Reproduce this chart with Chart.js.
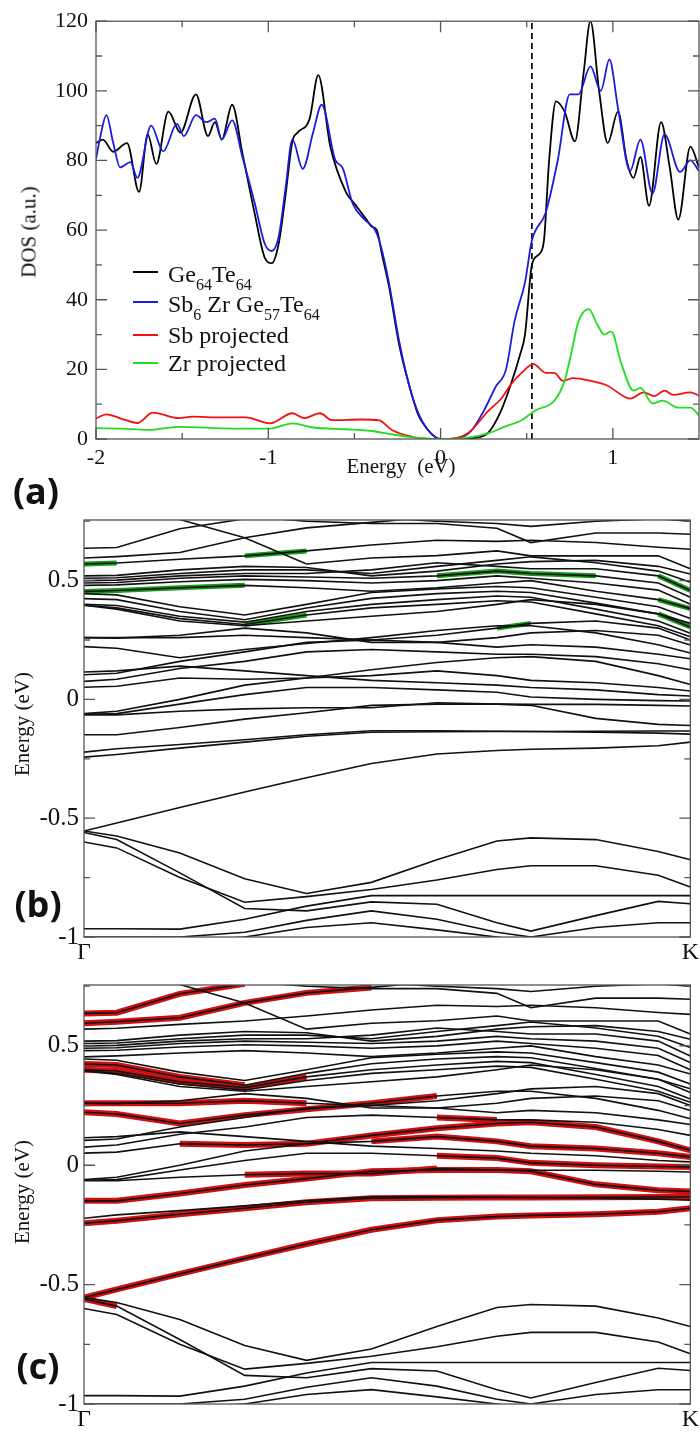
<!DOCTYPE html>
<html>
<head>
<meta charset="utf-8">
<script src="https://cdn.jsdelivr.net/npm/chart.js@4.4.0/dist/chart.umd.min.js"></script>
<style>
  body { margin: 0; background: #fff; width: 700px; height: 1432px; position: relative; overflow: hidden;
         font-family: "Liberation Serif", "DejaVu Serif", serif; color: #111; }
  canvas { position: absolute; left: 0; }
  .t { position: absolute; white-space: nowrap; font-size: 21px; }
  .rot { transform: translate(-50%, -50%) rotate(-90deg); }
  .tag { position: absolute; font-family: "Open Sans", "Liberation Sans", sans-serif; font-weight: 700; font-size: 36px;
         transform: translate(-50%, -50%); }
  .key { position: absolute; left: 133px; width: 25px; height: 0; border-top: 2px solid; }
  .lt { position: absolute; left: 168px; font-size: 24px; transform: translateY(-50%); white-space: nowrap; }
  sub { font-size: 16px; vertical-align: -8px; line-height: 0; }
</style>
</head>
<body>
<canvas id="dos" width="700" height="490" style="top:0"></canvas>
<canvas id="bandZr" width="700" height="465" style="top:500px"></canvas>
<canvas id="bandSb" width="700" height="467" style="top:965px"></canvas>

<div class="t rot" style="left:29px;top:232px">DOS (a.u.)</div>
<div class="t" style="left:401px;top:466px;transform:translate(-50%,-50%)">Energy&nbsp; (eV)</div>
<div class="tag" style="left:36px;top:490px">(a)</div>

<div class="key" style="top:271px;border-color:#000"></div>
<div class="lt" style="top:274px">Ge<sub>64</sub>Te<sub>64</sub></div>
<div class="key" style="top:301px;border-color:#1c1ce0"></div>
<div class="lt" style="top:304px">Sb<sub>6</sub> Zr Ge<sub>57</sub>Te<sub>64</sub></div>
<div class="key" style="top:334px;border-color:#f01010"></div>
<div class="lt" style="top:335px">Sb projected</div>
<div class="key" style="top:362px;border-color:#20dd20"></div>
<div class="lt" style="top:363px">Zr projected</div>

<div class="t rot" style="left:22px;top:724px">Energy (eV)</div>
<div class="tag" style="left:38px;top:903px">(b)</div>
<div class="t rot" style="left:22px;top:1192px">Energy (eV)</div>
<div class="tag" style="left:38px;top:1365px">(c)</div>

<script>
'use strict';

// ── DOS panel (a) ───────────────────────────────────────────────────────────

const GETE_E = [-2, -1.96, -1.90, -1.82, -1.75, -1.70, -1.65, -1.58, -1.51, -1.42, -1.35, -1.31, -1.27, -1.21,
  -1.15, -1.08, -1.02, -0.98, -0.94, -0.90, -0.86, -0.83, -0.76, -0.71, -0.64, -0.55, -0.49, -0.43, -0.40,
  -0.37, -0.34, -0.30, -0.24, -0.18, -0.13, -0.08, -0.03, 0.0, 0.1, 0.2, 0.28, 0.35, 0.41, 0.46, 0.49, 0.53,
  0.57, 0.60, 0.63, 0.67, 0.72, 0.78, 0.83, 0.87, 0.92, 0.97, 1.03, 1.08, 1.12, 1.16, 1.21, 1.28, 1.33, 1.38,
  1.45, 1.5];
const GETE_DOS = [85, 86, 82.5, 85, 71, 87.5, 79, 94, 88, 99, 87, 91, 86, 96,
  82, 65, 52, 50.5, 56, 70, 85.5, 88, 92, 104.5, 84, 71, 67, 63, 61,
  60, 53, 44, 27, 15, 7, 3, 0.5, 0, 0, 0.3, 2, 8, 16, 24, 30, 50,
  53, 57, 80, 97, 94, 85.5, 105, 120, 100, 85, 94, 80, 75, 81, 67, 91, 78, 63,
  84, 78];

const SBZR_E = [-2, -1.97, -1.94, -1.90, -1.86, -1.80, -1.76, -1.68, -1.61, -1.53, -1.49, -1.42, -1.36, -1.31,
  -1.27, -1.21, -1.15, -1.08, -1.02, -0.98, -0.94, -0.90, -0.86, -0.80, -0.74, -0.69, -0.61, -0.57, -0.51,
  -0.44, -0.38, -0.35, -0.30, -0.24, -0.18, -0.13, -0.08, -0.03, 0, 0.1, 0.18, 0.25, 0.32, 0.38, 0.43, 0.49,
  0.53, 0.61, 0.68, 0.75, 0.80, 0.87, 0.93, 0.98, 1.03, 1.10, 1.16, 1.23, 1.30, 1.39, 1.45, 1.5];
const SBZR_DOS = [80.4, 88, 93, 85, 78, 79.5, 75, 90, 82.6, 90.5, 87, 93, 91, 92,
  86, 91.5, 81, 68, 56, 54, 58, 72, 86, 77.6, 88, 96, 80, 78, 67.6,
  63, 60, 56, 45, 28, 15, 7.5, 3, 0.5, 0, 0.2, 2.5, 8, 15, 20, 34, 45,
  57, 65, 80, 99, 99, 107, 100, 109, 95, 77, 86, 70.5, 87.5, 76.7, 80, 77];

const SB_E = [-2, -1.94, -1.85, -1.76, -1.67, -1.52, -1.44, -1.28, -1.13, -0.99, -0.86, -0.79, -0.70, -0.63,
  -0.46, -0.36, -0.28, -0.17, -0.08, 0, 0.08, 0.16, 0.28, 0.35, 0.41, 0.47, 0.54, 0.61, 0.66, 0.71, 0.77,
  0.87, 0.97, 1.10, 1.18, 1.24, 1.30, 1.35, 1.45, 1.5];
const SB_DOS = [5.9, 7.1, 5.8, 4.6, 7.6, 6, 6.4, 6.2, 6.2, 4.5, 7.4, 6, 7.4, 5.4,
  5.6, 5.4, 2.5, 0.7, 0.1, 0, 0.2, 1.7, 8.2, 11.5, 15.8, 19, 21.5, 19, 19, 16.7, 17.5,
  16.7, 15.3, 11.6, 13.4, 12.3, 13.9, 12.7, 13.4, 12.5];

const ZR_E = [-2, -1.85, -1.7, -1.52, -1.2, -0.99, -0.86, -0.74, -0.55, -0.4, -0.3, -0.2, -0.1, 0, 0.15,
  0.28, 0.37, 0.47, 0.55, 0.66, 0.72, 0.76, 0.80, 0.86, 0.91, 0.95, 0.99, 1.05, 1.12, 1.16, 1.23, 1.29,
  1.38, 1.45, 1.5];
const ZR_DOS = [3.1, 3, 2.6, 3.5, 3, 3, 4.5, 3.3, 2.8, 2.3, 1.5, 0.7, 0.2, 0, 0.3,
  1.7, 3.5, 5.4, 8.2, 11, 16.7, 25, 33.7, 37.3, 32.8, 30, 30.9, 21.5, 13.9, 14.7, 10.2, 11,
  9, 9, 6.8];

const FERMI_MARK = 0.53;
const DOS_X_MAJOR = [-2, -1, 0, 1];
const DOS_X_MINOR = [-1.5, -0.5, 0.5];
const DOS_Y_MAJOR = [0, 20, 40, 60, 80, 100, 120];
const DOS_Y_MINOR = [10, 30, 50, 70, 90, 110];

// ── band structure panels (b) and (c) ───────────────────────────────────────

const K_PTS = [0, 0.054, 0.158, 0.265, 0.367, 0.474, 0.582, 0.681, 0.737, 0.844, 0.947, 1.0];
const BANDS = [
  [0.636, 0.639, 0.718, 0.76, 0.80, 0.82, 0.82, 0.80, 0.79, 0.78, 0.78, 0.78],              // 0
  [0.595, 0.601, 0.618, 0.68, 0.722, 0.745, 0.77, 0.79, 0.80, 0.78, 0.77, 0.765],           // 1
  [0.86, 0.85, 0.83, 0.80, 0.78, 0.765, 0.75, 0.74, 0.728, 0.75, 0.76, 0.75],               // 2
  [0.83, 0.82, 0.80, 0.77, 0.75, 0.74, 0.74, 0.72, 0.66, 0.70, 0.70, 0.695],                // 3
  [0.80, 0.79, 0.757, 0.68, 0.57, 0.595, 0.605, 0.625, 0.604, 0.604, 0.604, 0.55],          // 4
  [0.57, 0.574, 0.59, 0.604, 0.625, 0.65, 0.67, 0.665, 0.67, 0.66, 0.64, 0.632],            // 5
  [0.52, 0.522, 0.545, 0.56, 0.555, 0.52, 0.54, 0.57, 0.58, 0.585, 0.56, 0.528],            // 6
  [0.51, 0.512, 0.53, 0.545, 0.545, 0.53, 0.56, 0.585, 0.60, 0.575, 0.54, 0.493],           // 7
  [0.50, 0.502, 0.52, 0.53, 0.53, 0.545, 0.575, 0.56, 0.55, 0.55, 0.52, 0.458],             // 8
  [0.49, 0.492, 0.51, 0.52, 0.515, 0.51, 0.52, 0.54, 0.53, 0.52, 0.49, 0.43],               // 9
  [0.48, 0.482, 0.495, 0.505, 0.50, 0.49, 0.50, 0.52, 0.51, 0.49, 0.46, 0.40],              // 10
  [0.454, 0.458, 0.47, 0.48, 0.47, 0.455, 0.47, 0.49, 0.50, 0.455, 0.42, 0.382],            // 11
  [0.445, 0.44, 0.39, 0.355, 0.40, 0.45, 0.465, 0.475, 0.47, 0.43, 0.39, 0.34],             // 12
  [0.424, 0.42, 0.37, 0.335, 0.385, 0.425, 0.445, 0.455, 0.45, 0.405, 0.36, 0.305],         // 13
  [0.40, 0.395, 0.35, 0.325, 0.37, 0.40, 0.42, 0.435, 0.43, 0.38, 0.33, 0.278],             // 14
  [0.396, 0.385, 0.34, 0.315, 0.355, 0.385, 0.40, 0.415, 0.41, 0.36, 0.31, 0.264],          // 15
  [0.396, 0.38, 0.33, 0.31, 0.33, 0.35, 0.37, 0.40, 0.42, 0.40, 0.36, 0.32],                // 16
  [0.26, 0.26, 0.26, 0.27, 0.26, 0.25, 0.27, 0.30, 0.32, 0.33, 0.30, 0.25],                 // 17
  [0.26, 0.258, 0.27, 0.30, 0.28, 0.24, 0.24, 0.26, 0.28, 0.29, 0.27, 0.229],               // 18
  [0.222, 0.215, 0.175, 0.21, 0.235, 0.26, 0.29, 0.31, 0.31, 0.28, 0.23, 0.195],            // 19
  [0.104, 0.11, 0.16, 0.20, 0.24, 0.25, 0.24, 0.22, 0.23, 0.22, 0.19, 0.171],               // 20
  [0.076, 0.085, 0.13, 0.16, 0.20, 0.21, 0.20, 0.19, 0.19, 0.18, 0.15, 0.125],              // 21
  [0.051, 0.055, 0.09, 0.085, 0.09, 0.125, 0.155, 0.175, 0.18, 0.16, 0.10, 0.0625],         // 22
  [0.115, 0.12, 0.14, 0.12, 0.10, 0.08, 0.07, 0.06, 0.05, 0.04, 0.02, 0.014],               // 23
  [-0.06, -0.05, 0.00, 0.06, 0.09, 0.10, 0.12, 0.10, 0.08, 0.07, 0.05, 0.035],              // 24
  [-0.0625, -0.06, -0.02, 0.02, 0.05, 0.05, 0.04, 0.03, 0.01, 0.0, -0.005, -0.007],         // 25
  [-0.065, -0.065, -0.05, -0.04, -0.035, -0.035, -0.014, -0.02, -0.021, -0.021, -0.025, -0.028], // 26
  [-0.149, -0.149, -0.118, -0.083, -0.056, -0.025, -0.02, -0.02, -0.025, -0.08, -0.105, -0.11],  // 27
  [-0.222, -0.208, -0.19, -0.17, -0.149, -0.132, -0.132, -0.134, -0.135, -0.138, -0.142, -0.146], // 28
  [-0.243, -0.232, -0.205, -0.18, -0.155, -0.138, -0.136, -0.135, -0.135, -0.134, -0.133, -0.133], // 29
  [-0.554, -0.52, -0.455, -0.39, -0.33, -0.27, -0.23, -0.215, -0.21, -0.205, -0.195, -0.18],      // 30
  [-0.554, -0.575, -0.646, -0.755, -0.817, -0.77, -0.675, -0.596, -0.583, -0.59, -0.64, -0.675],  // 31
  [-0.56, -0.59, -0.73, -0.88, -0.89, -0.852, -0.862, -0.94, -0.975, -0.91, -0.85, -0.86],        // 32
  [-0.60, -0.625, -0.75, -0.854, -0.83, -0.80, -0.76, -0.716, -0.70, -0.70, -0.74, -0.79],        // 33
  [-0.965, -0.965, -0.967, -0.925, -0.87, -0.826, -0.826, -0.826, -0.826, -0.826, -0.826, -0.826], // 34
  [-1.0, -1.0, -1.0, -0.98, -0.93, -0.89, -0.925, -0.98, -1.0, -0.96, -0.94, -0.94],              // 35
  [-1.02, -1.02, -1.02, -1.0, -0.96, -0.94, -0.97, -1.0, -1.02, -1.02, -1.02, -1.02],             // 36
];

// [band index, first k index, last k index]
const ZR_WEIGHT = [[5, 0, 1], [11, 0, 3], [15, 3, 4], [5, 3, 4], [9, 6, 9], [8, 10, 11],
  [11, 10, 11], [17, 7, 8], [13, 10, 11]];
const SB_WEIGHT = [[0, 0, 3], [1, 0, 5], [13, 0, 3], [14, 0, 4], [17, 0, 4], [19, 0, 6], [22, 2, 11],
  [24, 5, 11], [25, 6, 11], [26, 3, 6], [21, 6, 7], [27, 0, 11], [29, 0, 11], [30, 0, 11], [32, 0, 1]];

const BAND_Y_MAJOR = [-1, -0.5, 0, 0.5];
const BAND_Y_MINOR = [-0.75, -0.25, 0.25, 0.75];

// ── frame with inward ticks on all four sides ──────────────────────────────

const framePlugin = {
  id: 'frame',
  afterDraw(chart, args, o) {
    const { ctx, chartArea: a, scales: { x, y } } = chart;
    ctx.save();
    ctx.strokeStyle = '#555';
    ctx.lineWidth = 1.3;
    ctx.strokeRect(a.left, a.top, a.right - a.left, a.bottom - a.top);
    ctx.beginPath();
    const xt = (vals, len) => vals.forEach(v => {
      const px = x.getPixelForValue(v);
      ctx.moveTo(px, a.bottom); ctx.lineTo(px, a.bottom - len);
      ctx.moveTo(px, a.top); ctx.lineTo(px, a.top + len);
    });
    const yt = (vals, len) => vals.forEach(v => {
      const py = y.getPixelForValue(v);
      ctx.moveTo(a.left, py); ctx.lineTo(a.left + len, py);
      ctx.moveTo(a.right, py); ctx.lineTo(a.right - len, py);
    });
    xt(o.xMajor || [], 11); xt(o.xMinor || [], 6);
    yt(o.yMajor || [], 11); yt(o.yMinor || [], 6);
    ctx.stroke();
    ctx.restore();
  }
};

const pairs = (xs, ys) => xs.map((v, i) => ({ x: v, y: ys[i] }));
const tickFont = size => ({ family: '"Liberation Serif", serif', size });

// ── render ───────────────────────────────────────────────────────────────────

function renderDOS() {
  const line = (label, xs, ys, color, w) => ({
    label, data: pairs(xs, ys), borderColor: color, borderWidth: w,
    pointRadius: 0, cubicInterpolationMode: 'monotone', fill: false,
  });
  new Chart(document.getElementById('dos'), {
    type: 'line',
    data: {
      datasets: [
        line('Zr projected', ZR_E, ZR_DOS, '#20dd20', 1.8),
        line('Sb projected', SB_E, SB_DOS, '#f01010', 1.8),
        line('Sb6 Zr Ge57Te64', SBZR_E, SBZR_DOS, '#1c1ce0', 1.8),
        line('Ge64Te64', GETE_E, GETE_DOS, '#000', 1.8),
        { label: 'mark', data: [{ x: FERMI_MARK, y: 0 }, { x: FERMI_MARK, y: 120 }],
          borderColor: '#000', borderWidth: 1.7, borderDash: [6, 4], pointRadius: 0 },
      ],
    },
    options: {
      responsive: false, animation: false, events: [],
      layout: { padding: { top: 15, right: 1 } },
      plugins: { legend: { display: false }, tooltip: { enabled: false },
        frame: { xMajor: DOS_X_MAJOR, xMinor: DOS_X_MINOR, yMajor: DOS_Y_MAJOR, yMinor: DOS_Y_MINOR } },
      scales: {
        x: { type: 'linear', min: -2, max: 1.5,
          grid: { display: false, drawTicks: false }, border: { display: false },
          afterBuildTicks: s => { s.ticks = DOS_X_MAJOR.map(v => ({ value: v })); },
          afterFit: s => { s.height = 51; },
          ticks: { color: '#111', font: tickFont(22), padding: 6, callback: v => String(v) } },
        y: { type: 'linear', min: 0, max: 120,
          grid: { display: false, drawTicks: false }, border: { display: false },
          afterBuildTicks: s => { s.ticks = DOS_Y_MAJOR.map(v => ({ value: v })); },
          afterFit: s => { s.width = 96; },
          ticks: { color: '#111', font: tickFont(22), padding: 8, callback: v => String(v) } },
      },
    },
    plugins: [framePlugin],
  });
}

function renderBands(id, weights, color, wWidth, top, xH) {
  const black = BANDS.map(b => ({
    data: pairs(K_PTS, b), borderColor: '#111', borderWidth: 1.6, pointRadius: 0, tension: 0,
  }));
  const marked = weights.map(([bi, from, to]) => ({
    data: pairs(K_PTS, BANDS[bi].map((v, i) => (i >= from && i <= to ? v : null))),
    borderColor: color, borderWidth: wWidth, pointRadius: 0, tension: 0, spanGaps: false,
  }));
  new Chart(document.getElementById(id), {
    type: 'line',
    data: { datasets: black.concat(marked) },
    options: {
      responsive: false, animation: false, events: [],
      layout: { padding: { top, right: 8 } },
      plugins: { legend: { display: false }, tooltip: { enabled: false },
        frame: { yMajor: BAND_Y_MAJOR, yMinor: BAND_Y_MINOR } },
      scales: {
        x: { type: 'linear', min: 0, max: 1,
          grid: { display: false, drawTicks: false }, border: { display: false },
          afterBuildTicks: s => { s.ticks = [{ value: 0 }, { value: 1 }]; },
          afterFit: s => { s.height = xH; },
          ticks: { color: '#111', font: tickFont(24), padding: 1,
            callback: v => (v === 0 ? 'Γ' : 'K') } },
        y: { type: 'linear', min: -1, max: 0.755,
          grid: { display: false, drawTicks: false }, border: { display: false },
          afterBuildTicks: s => { s.ticks = BAND_Y_MAJOR.map(v => ({ value: v })); },
          afterFit: s => { s.width = 84; },
          ticks: { color: '#111', font: tickFont(25), padding: 5, callback: v => String(v) } },
      },
    },
    plugins: [framePlugin],
  });
}

renderDOS();
renderBands('bandZr', ZR_WEIGHT, '#1a9a1a', 5, 14, 28);
renderBands('bandSb', SB_WEIGHT, '#d01010', 6, 17, 28);
</script>
</body>
</html>
